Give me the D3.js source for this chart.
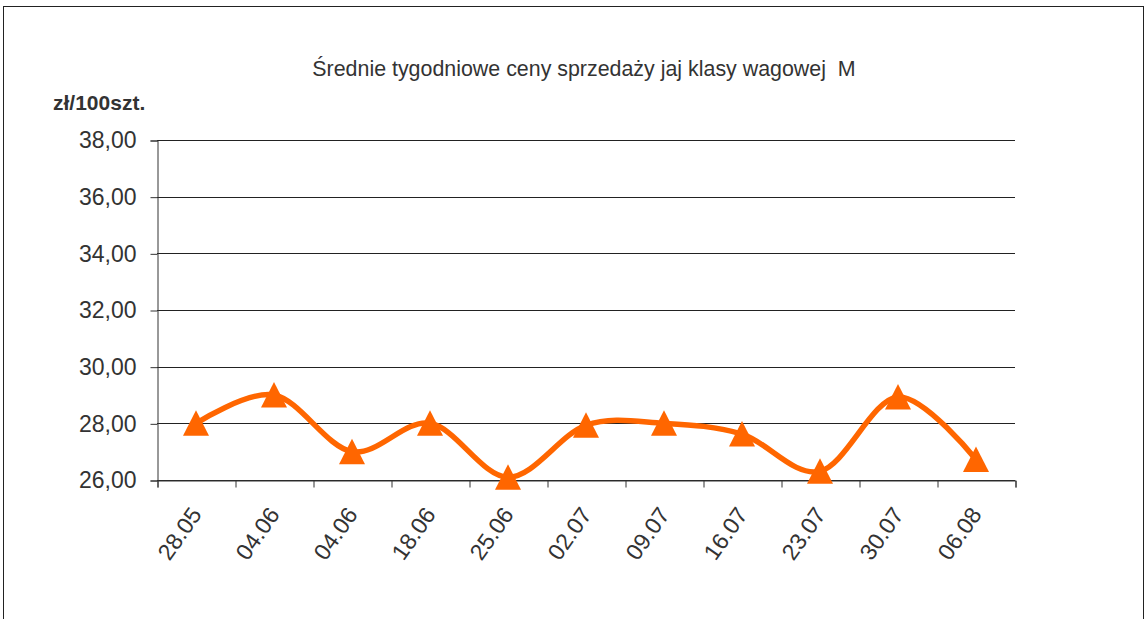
<!DOCTYPE html>
<html>
<head>
<meta charset="utf-8">
<script src="https://cdn.jsdelivr.net/npm/d3@7"></script>
<style>
  html, body { margin: 0; padding: 0; background: #fff; }
  svg { display: block; font-family: "Liberation Sans", Arial, sans-serif; }
</style>
</head>
<body>
<svg id="chart" width="1148" height="619"></svg>
<script>
const categories = ["28.05", "04.06", "04.06", "18.06", "25.06", "02.07", "09.07", "16.07", "23.07", "30.07", "06.08"];
const prices = [28.00, 29.00, 27.00, 28.00, 26.10, 27.93, 28.00, 27.62, 26.31, 28.93, 26.72];
const yTicks = [26, 28, 30, 32, 34, 36, 38];
const titleText = "Średnie tygodniowe ceny sprzedaży jaj klasy wagowej  M";
const unitText = "zł/100szt.";

const svg = d3.select("#chart");
const plot = { left: 157, right: 1015, top: 140, bottom: 480 };

// outer frame
svg.append("rect")
  .attr("x", 3.5).attr("y", 6.5)
  .attr("width", 1140).attr("height", 700)
  .attr("fill", "#fff").attr("stroke", "#222").attr("stroke-width", 1);

const idx = categories.map((d, i) => i);
const x = d3.scaleBand().domain(idx).range([plot.left, plot.right]).padding(0);
const xb = d3.scaleLinear().domain([0, categories.length]).range([plot.left, plot.right]);
const y = d3.scaleLinear().domain([26, 38]).range([plot.bottom, plot.top]);

// gridlines
svg.append("g")
  .selectAll("line")
  .data(yTicks)
  .join("line")
  .attr("x1", plot.left).attr("x2", plot.right)
  .attr("y1", d => Math.round(y(d)) + 0.5).attr("y2", d => Math.round(y(d)) + 0.5)
  .attr("stroke", "#222").attr("stroke-width", 1);

// y axis
const yAxis = svg.append("g")
  .attr("transform", `translate(${plot.left + 0.5},0.5)`)
  .call(d3.axisLeft(y).tickValues(yTicks).tickSize(7).tickPadding(14)
    .tickFormat(d => d.toFixed(2).replace(".", ",")));
yAxis.select(".domain").attr("stroke", "#333");
yAxis.selectAll(".tick line").attr("stroke", "#333");
yAxis.selectAll(".tick text")
  .attr("font-size", 23).attr("fill", "#333")
  .attr("font-family", "'Liberation Sans', Arial, sans-serif");

// x axis: tick marks at band boundaries
const xTickAxis = svg.append("g")
  .attr("transform", `translate(0.5,${plot.bottom + 0.5})`)
  .call(d3.axisBottom(xb).tickValues(d3.range(categories.length + 1)).tickSize(7).tickFormat(""));
xTickAxis.select(".domain").attr("stroke", "#333");
xTickAxis.selectAll(".tick line").attr("stroke", "#333");

// x labels
const xLab = svg.append("g")
  .attr("transform", `translate(0,${plot.bottom})`)
  .call(d3.axisBottom(x).tickSize(0).tickFormat(i => categories[i]));
xLab.select(".domain").remove();
xLab.selectAll(".tick text")
  .attr("font-size", 23).attr("fill", "#333")
  .attr("font-family", "'Liberation Sans', Arial, sans-serif")
  .attr("text-anchor", "end")
  .attr("x", 0).attr("y", 30).attr("dy", "0.35em")
  .attr("transform", "rotate(-55 0 30)");

// line
const line = d3.line()
  .x((d, i) => x(i) + x.bandwidth() / 2)
  .y(d => y(d))
  .curve(d3.curveCardinal.tension(0));

svg.append("path")
  .datum(prices)
  .attr("d", line)
  .attr("fill", "none")
  .attr("stroke", "#FF6600")
  .attr("stroke-width", 5.5)
  .attr("stroke-linejoin", "round");

// triangle markers
svg.append("g")
  .selectAll("path")
  .data(prices)
  .join("path")
  .attr("transform", (d, i) => `translate(${x(i) + x.bandwidth() / 2},${y(d)})`)
  .attr("d", "M0,-13L13,12.5L-13,12.5Z")
  .attr("fill", "#FF6600");

// title
svg.append("text")
  .attr("x", 584).attr("y", 76)
  .attr("text-anchor", "middle")
  .attr("font-size", 21.4)
  .attr("fill", "#333")
  .style("white-space", "pre")
  .text(titleText);

// unit label
svg.append("text")
  .attr("x", 53).attr("y", 110)
  .attr("font-size", 21)
  .attr("font-weight", "bold")
  .attr("fill", "#333")
  .text(unitText);
</script>
</body>
</html>
